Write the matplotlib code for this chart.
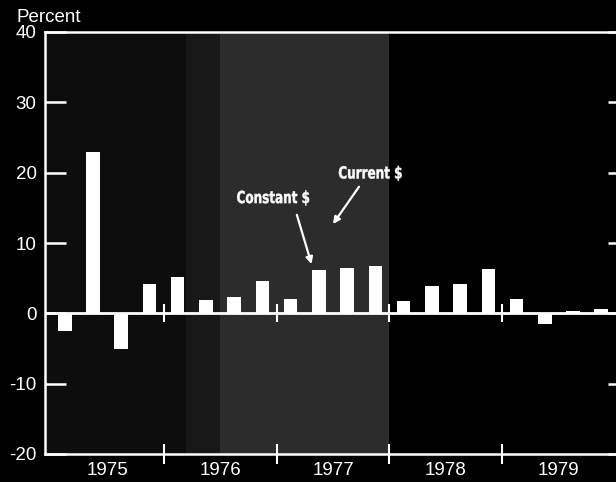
import numpy as np
import matplotlib
matplotlib.use('Agg')
import matplotlib.pyplot as plt
from matplotlib.textpath import TextPath
from matplotlib.patches import PathPatch
from matplotlib.font_manager import FontProperties
from matplotlib.transforms import Affine2D, ScaledTranslation

# quarterly percent changes, 1975Q1 - 1979Q4
quarters = ['1975Q1', '1975Q2', '1975Q3', '1975Q4',
            '1976Q1', '1976Q2', '1976Q3', '1976Q4',
            '1977Q1', '1977Q2', '1977Q3', '1977Q4',
            '1978Q1', '1978Q2', '1978Q3', '1978Q4',
            '1979Q1', '1979Q2', '1979Q3', '1979Q4']
values = [-2.5, 23.0, -5.1, 4.1,
          5.2, 1.9, 2.3, 4.6,
          2.0, 6.1, 6.5, 6.7,
          1.8, 3.9, 4.2, 6.3,
          2.1, -1.5, 0.3, 0.6]
years = ['1975', '1976', '1977', '1978', '1979']
yticks = [-20, -10, 0, 10, 20, 30, 40]

x = np.array([int(q[:4]) + (int(q[-1]) - 1) * 0.25 + 0.125 for q in quarters])
yr = np.array([int(y) for y in years])

plt.rcParams['font.family'] = ['Liberation Sans', 'DejaVu Sans']
fig = plt.figure(figsize=(6.16, 4.82), dpi=100, facecolor='black')
ax = fig.add_axes([45/616, 28/482, 1 - 45/616 + 0.01, 422/482], facecolor='#0d0d0d')

# shaded (screened) period; black after it
ax.axvspan(1976.2, 1976.5, color='#181818', lw=0)
ax.axvspan(1976.5, 1978.0, color='#2c2c2c', lw=0)
ax.axvspan(1978.0, 1980.2, color='black', lw=0)

ax.bar(x, values, width=0.12, color='white', zorder=3)
ax.axhline(0, color='white', lw=2, zorder=4)
ax.vlines(yr[1:], -1.3, 1.3, color='white', lw=1.5, zorder=4)

ax.set_xlim(1974.95, 1980.06)
ax.set_ylim(-20, 40)

for s in ax.spines.values():
    s.set_color('white')
    s.set_linewidth(1.8)

ax.set_yticks(yticks)
ax.set_yticklabels([str(t) for t in yticks], fontsize=13.5, color='white')
ax.tick_params(axis='y', direction='in', length=15, width=1.8, color='white', pad=6)
ax2 = ax.twinx()
ax2.set_ylim(-20, 40)
ax2.set_yticks(yticks)
ax2.tick_params(axis='y', direction='in', length=10, width=1.8, color='white',
                labelright=False)
for s in ax2.spines.values():
    s.set_visible(False)

ax.set_xticks(yr[1:])
ax.set_xticklabels([])
ax.set_xticks(yr + 0.5, minor=True)
ax.set_xticklabels(years, minor=True, fontsize=13.5, color='white')
ax.tick_params(axis='x', which='major', direction='inout', length=14, width=1.5,
               color='white')
ax.tick_params(axis='x', which='minor', length=0, pad=6)

fig.text(17/616, 1 - 18/482, 'Percent', fontsize=13.5, color='white', va='center')


def narrow_text(s, xc, yc, size=12, squeeze=0.72):
    # condensed bold label, drawn as a squeezed text path
    tp = TextPath((0, 0), s, size=size, prop=FontProperties(family='DejaVu Sans', weight='bold'))
    bb = tp.get_extents()
    k = fig.dpi / 72
    tr = (Affine2D().translate(-(bb.x0 + bb.x1) / 2, -(bb.y0 + bb.y1) / 2)
          .scale(squeeze * k, k) + ScaledTranslation(xc, yc, ax.transData))
    ax.add_patch(PathPatch(tp, transform=tr, color='white', lw=0.3, zorder=6,
                           clip_on=False))


narrow_text('Constant $', 1976.97, 16.4)
narrow_text('Current $', 1977.83, 19.9)
arrow = dict(arrowstyle='-|>', color='white', lw=1.6, shrinkA=0, shrinkB=0,
             mutation_scale=10)
ax.annotate('', xy=(1977.31, 7.0), xytext=(1977.18, 14.0), arrowprops=arrow)
ax.annotate('', xy=(1977.50, 12.7), xytext=(1977.73, 18.0), arrowprops=arrow)

plt.savefig('out.png', dpi=100, facecolor='black')
